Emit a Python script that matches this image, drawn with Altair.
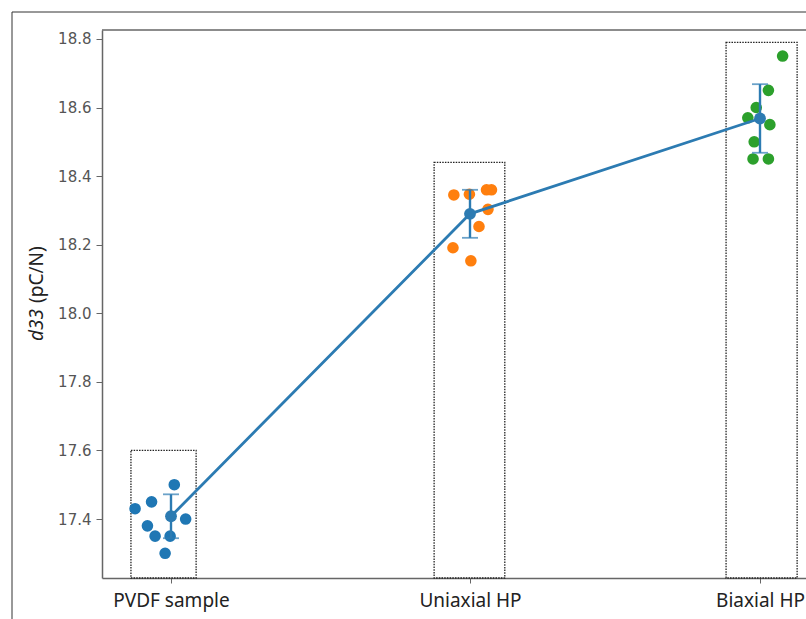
import altair as alt
import pandas as pd

# ---------------- data ----------------
categories = ["PVDF sample", "Uniaxial HP", "Biaxial HP"]
positions = [0, 1, 2]

pvdf_values = [17.50, 17.45, 17.43, 17.40, 17.38, 17.35, 17.35, 17.30]
pvdf_jitter = [0.011, -0.066, -0.122, 0.049, -0.080, -0.054, -0.003, -0.020]
uni_values = [18.345, 18.347, 18.36, 18.36, 18.303, 18.253, 18.191, 18.153]
uni_jitter = [-0.054, -0.002, 0.057, 0.074, 0.062, 0.031, -0.057, 0.003]
bi_values = [18.75, 18.65, 18.60, 18.57, 18.55, 18.50, 18.45, 18.45]
bi_jitter = [0.078, 0.029, -0.013, -0.042, 0.034, -0.020, -0.024, 0.029]

means = [17.408, 18.29, 18.568]
errors = [0.064, 0.07, 0.10]

box_left = [-0.136, -0.120, -0.117]
box_right = [0.084, 0.120, 0.128]
box_top = [17.60, 18.44, 18.79]

y_ticks = [17.4, 17.6, 17.8, 18.0, 18.2, 18.4, 18.6, 18.8]
point_colors = ["#1f77b4", "#ff7f0e", "#2ca02c"]
line_color = "#2c7bb2"

# ---------------- tables ----------------
rows = []
for cat, pos, vals, jit in zip(categories, positions,
                               [pvdf_values, uni_values, bi_values],
                               [pvdf_jitter, uni_jitter, bi_jitter]):
    for v, j in zip(vals, jit):
        rows.append({"group": cat, "x": pos + j, "d33": v})
points_df = pd.DataFrame(rows)

Y_MIN, Y_MAX = 17.228, 18.826

summary_df = pd.DataFrame({
    "group": categories,
    "x": positions,
    "mean": means,
    "lo": [m - e for m, e in zip(means, errors)],
    "hi": [m + e for m, e in zip(means, errors)],
    "bx": [p + l for p, l in zip(positions, box_left)],
    "bx2": [p + r for p, r in zip(positions, box_right)],
    "btop": box_top,
    "bbot": [Y_MIN] * 3,
})

W, H = 704, 548
x_scale = alt.Scale(domain=[-0.2343, 0, 1, 2, 2.1586],
                    range=[0, 69, 368, 658, 704], nice=False, zero=False)
y_scale = alt.Scale(domain=[Y_MIN, Y_MAX], nice=False, zero=False)

x_axis = alt.Axis(values=positions, title=None, grid=False,
                  labelExpr="['PVDF sample','Uniaxial HP','Biaxial HP'][datum.value]",
                  labelFont="Noto Sans", labelFontSize=19, labelColor="#222",
                  labelPadding=8, labelOverlap=False, labelFlush=False, labelBound=False,
                  tickSize=5, tickColor="#666", domainColor="#666", domainWidth=1.5)
y_axis = alt.Axis(values=y_ticks, format=".1f", title=None, grid=False,
                  labelFont="DejaVu Sans", labelFontSize=15, labelColor="#555",
                  labelPadding=5, tickSize=6, tickColor="#666",
                  domainColor="#666", domainWidth=1.5)

base = alt.Chart(summary_df)

boxes = base.mark_rect(fillOpacity=0, stroke="#222", strokeWidth=1.3,
                       strokeDash=[1.5, 1.2]).encode(
    x=alt.X("bx:Q", scale=x_scale, axis=x_axis),
    x2="bx2:Q",
    y=alt.Y("btop:Q", scale=y_scale, axis=y_axis),
    y2="bbot:Q",
)

scatter = alt.Chart(points_df).mark_circle(size=135, opacity=1).encode(
    x=alt.X("x:Q", scale=x_scale),
    y=alt.Y("d33:Q", scale=y_scale),
    color=alt.Color("group:N", scale=alt.Scale(domain=categories, range=point_colors),
                    legend=None),
)

mean_line = base.mark_line(color=line_color, strokeWidth=2.8).encode(
    x=alt.X("x:Q", scale=x_scale), y=alt.Y("mean:Q", scale=y_scale))

err_rule = base.mark_rule(color=line_color, strokeWidth=2.4).encode(
    x=alt.X("x:Q", scale=x_scale), y=alt.Y("lo:Q", scale=y_scale), y2="hi:Q")

cap_lo = base.mark_tick(color=line_color, orient="horizontal", size=16,
                        thickness=1.8).encode(
    x=alt.X("x:Q", scale=x_scale), y=alt.Y("lo:Q", scale=y_scale))
cap_hi = base.mark_tick(color=line_color, orient="horizontal", size=16,
                        thickness=1.8).encode(
    x=alt.X("x:Q", scale=x_scale), y=alt.Y("hi:Q", scale=y_scale))

mean_pts = base.mark_circle(color=line_color, size=140, opacity=1).encode(
    x=alt.X("x:Q", scale=x_scale), y=alt.Y("mean:Q", scale=y_scale))

one = pd.DataFrame({"k": [0]})
top_border = alt.Chart(one).mark_rule(color="#666", strokeWidth=1.5).encode(
    x=alt.value(0), x2=alt.value(W), y=alt.value(0))
frame_left = alt.Chart(one).mark_rule(color="#333", strokeWidth=1).encode(
    x=alt.value(-90), y=alt.value(-18), y2=alt.value(H + 41))
frame_top = alt.Chart(one).mark_rule(color="#333", strokeWidth=1).encode(
    x=alt.value(-90), x2=alt.value(W), y=alt.value(-18))

title_italic = alt.Chart(one).mark_text(
    text="d33", angle=270, align="left", baseline="alphabetic",
    font="Noto Sans", fontSize=19, fontStyle="italic", color="#222").encode(
    x=alt.value(-59), y=alt.value(311))
title_regular = alt.Chart(one).mark_text(
    text="(pC/N)", angle=270, align="left", baseline="alphabetic",
    font="Noto Sans", fontSize=19, color="#222").encode(
    x=alt.value(-59), y=alt.value(273))

chart = alt.layer(
    boxes, scatter, mean_line, err_rule, cap_lo, cap_hi, mean_pts,
    top_border, frame_left, frame_top, title_italic, title_regular,
).properties(
    width=W, height=H,
    autosize=alt.AutoSizeParams(type="none"),
    padding={"left": 102, "top": 30, "right": 0, "bottom": 41},
    background="white",
).configure_view(stroke=None)

chart.save("out.html", embed_options={"renderer": "svg", "actions": False})
